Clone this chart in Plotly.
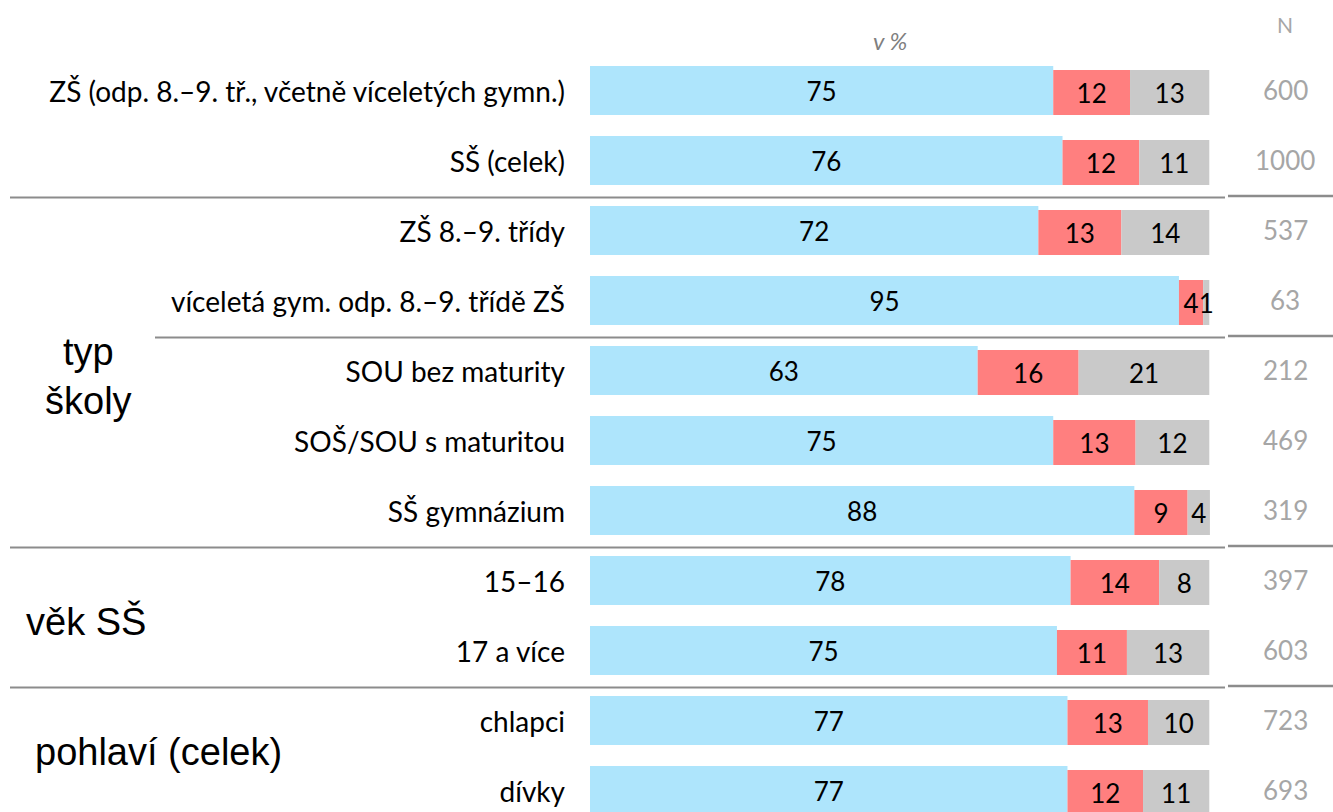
import plotly.graph_objects as go

# ---------------- data ----------------
categories = [
    "ZŠ (odp. 8.–9. tř., včetně víceletých gymn.)",
    "SŠ (celek)",
    "ZŠ 8.–9. třídy",
    "víceletá gym. odp. 8.–9. třídě ZŠ",
    "SOU bez maturity",
    "SOŠ/SOU s maturitou",
    "SŠ gymnázium",
    "15–16",
    "17 a více",
    "chlapci",
    "dívky",
]
blue_vals = [74.8, 76.3, 72.4, 95.1, 62.6, 74.8, 87.9, 77.6, 75.4, 77.1, 77.1]
red_vals = [12.4, 12.4, 13.4, 3.9, 16.3, 13.3, 8.6, 14.3, 11.3, 13.0, 12.2]
gray_vals = [12.8, 11.3, 14.2, 1.0, 21.1, 11.9, 3.6, 8.1, 13.3, 9.9, 10.7]
blue_labels = [75, 76, 72, 95, 63, 75, 88, 78, 75, 77, 77]
red_labels = [12, 12, 13, 4, 16, 13, 9, 14, 11, 13, 12]
gray_labels = [13, 11, 14, 1, 21, 12, 4, 8, 13, 10, 11]
n_values = [600, 1000, 537, 63, 212, 469, 319, 397, 603, 723, 693]
group_names = ["typ<br>školy", "věk SŠ", "pohlaví (celek)"]

# ---------------- geometry / style ----------------
W, H = 1333, 812
PLOT_LEFT = 590
PX_PER_UNIT = 6.193
ROW_PITCH = 70.0
FIRST_ROW = 92.5

BLUE = "#AEE5FC"
RED = "#FF7F7F"
GRAY = "#C9C9C9"
LINE = "#8C8C8C"
NCOL = "#A6A6A6"
FONT = "Lato"

rows = list(range(len(categories)))
red_base = list(blue_vals)
gray_base = [b + r for b, r in zip(blue_vals, red_vals)]

thin_w = 45 / ROW_PITCH
blue_w = 49 / ROW_PITCH

fig = go.Figure()
fig.add_trace(go.Bar(
    y=rows, x=blue_vals, orientation="h", marker=dict(color=BLUE, line=dict(width=0)),
    width=blue_w, offset=thin_w / 2 - blue_w,
    text=[str(v) for v in blue_labels], texttemplate="%{text}",
    textposition="inside", insidetextanchor="middle",
    textfont=dict(family=FONT, size=26, color="black"), hoverinfo="skip", name="a"))
fig.add_trace(go.Bar(
    y=rows, x=red_vals, base=red_base, orientation="h", marker=dict(color=RED, line=dict(width=0)),
    width=thin_w, offset=-thin_w / 2,
    text=[str(v) for v in red_labels], texttemplate="%{text}",
    textposition="inside", insidetextanchor="middle",
    textfont=dict(family=FONT, size=26, color="black"), hoverinfo="skip", name="b"))
fig.add_trace(go.Bar(
    y=rows, x=gray_vals, base=gray_base, orientation="h", marker=dict(color=GRAY, line=dict(width=0)),
    width=thin_w, offset=-thin_w / 2,
    text=[str(v) for v in gray_labels], texttemplate="%{text}",
    textposition="inside", insidetextanchor="middle",
    textfont=dict(family=FONT, size=26, color="black"), hoverinfo="skip", name="c"))

annotations = []
# N values
for r, n in zip(rows, n_values):
    annotations.append(dict(x=1285 / W, xref="paper", y=r - 0.03, yref="y", text=str(n),
                            showarrow=False, xanchor="center", yanchor="middle",
                            font=dict(family=FONT, size=26, color=NCOL)))
annotations.append(dict(x=1285 / W, xref="paper", y=1 - 25 / H, yref="paper", text="N",
                        showarrow=False, xanchor="center", yanchor="middle",
                        font=dict(family=FONT, size=21, color=NCOL)))
annotations.append(dict(x=890 / W, xref="paper", y=1 - 40 / H, yref="paper", text="v %",
                        showarrow=False, xanchor="center", yanchor="middle",
                        font=dict(family=FONT, size=24, color="#7F7F7F", style="italic")))
# group labels
group_pos = [(88 / W, "center", 4.05), (24 / W, "left", 7.55), (33 / W, "left", 9.42)]
for name, (gx, anchor, gy) in zip(group_names, group_pos):
    annotations.append(dict(x=gx, xref="paper", y=gy, yref="y", text=name,
                            showarrow=False, xanchor=anchor, yanchor="middle", align="center",
                            font=dict(family="Liberation Sans", size=38, color="black")))

shapes = []
separators = [(1.5, 10), (3.5, 155), (6.5, 10), (8.5, 10)]
for sy, x0 in separators:
    shapes.append(dict(type="line", xref="paper", yref="y", x0=x0 / W, x1=1225 / W,
                       y0=sy, y1=sy, line=dict(color=LINE, width=2)))
    shapes.append(dict(type="line", xref="paper", yref="y", x0=1228 / W, x1=1.0,
                       y0=sy - 0.02, y1=sy - 0.02, line=dict(color=LINE, width=2.5)))

fig.update_layout(
    width=W, height=H,
    margin=dict(l=0, r=0, t=0, b=0, pad=0),
    paper_bgcolor="white", plot_bgcolor="white",
    barmode="overlay", showlegend=False,
    uniformtext=dict(minsize=26, mode="show"),
    xaxis=dict(domain=[PLOT_LEFT / W, 1], range=[0, (W - PLOT_LEFT) / PX_PER_UNIT],
               visible=False, fixedrange=True),
    yaxis=dict(range=[(H - FIRST_ROW) / ROW_PITCH, -FIRST_ROW / ROW_PITCH],
               tickvals=rows, ticktext=categories, ticks="", showgrid=False,
               zeroline=False, showline=False, automargin=False, fixedrange=True,
               ticklabelstandoff=24,
               tickfont=dict(family=FONT, size=28, color="black")),
    annotations=annotations,
    shapes=shapes,
)

fig.write_html("out.html", config={"displayModeBar": False},
               post_script="document.body.style.margin='0';")
